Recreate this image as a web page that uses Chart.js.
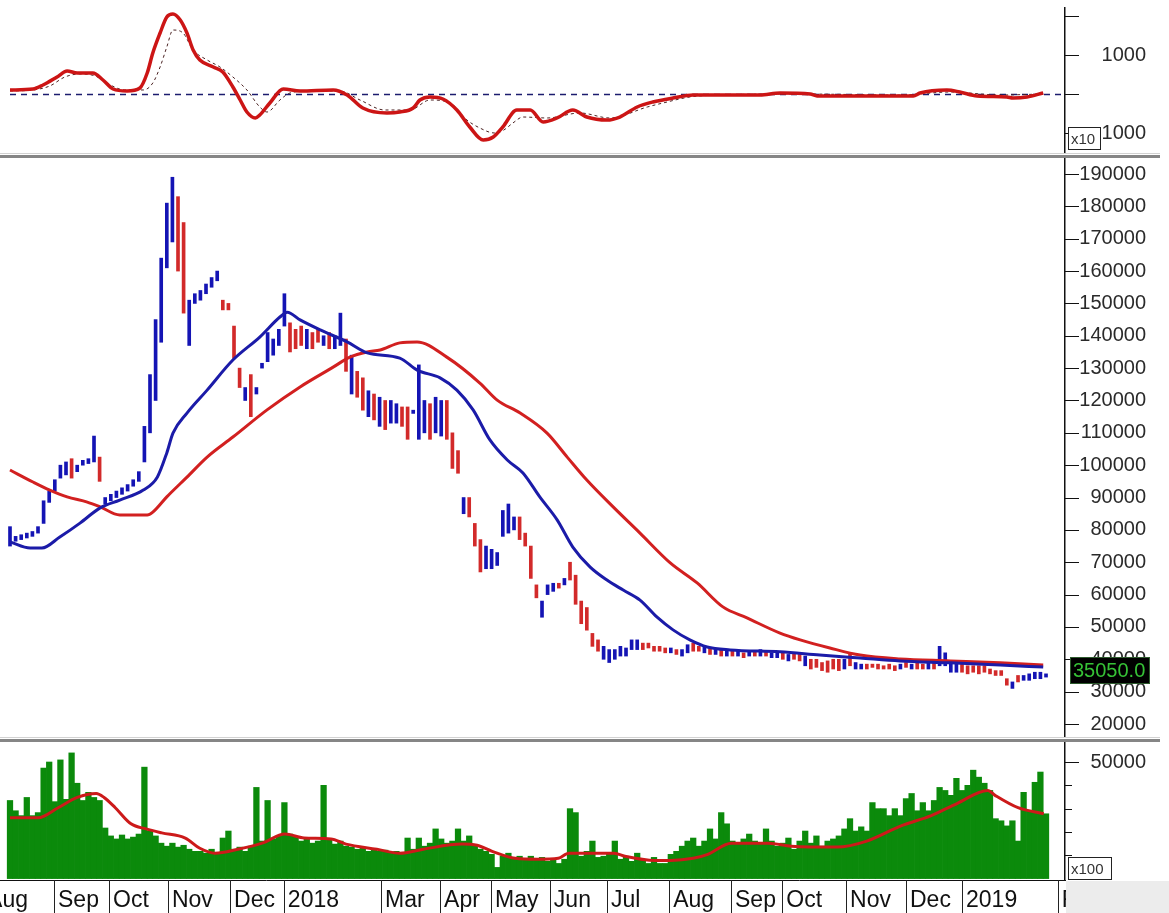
<!DOCTYPE html>
<html>
<head>
<meta charset="utf-8">
<title>Price, volume and MACD</title>
<script src="https://cdn.jsdelivr.net/npm/chart.js@4.4.0/dist/chart.umd.min.js"></script>
<style>
  html, body { margin: 0; padding: 0; background: #fff; }
  #wrap { position: relative; width: 1169px; height: 913px; overflow: hidden; background: #fff; }
  canvas { position: absolute; left: 0; }
  #macdCanvas { top: 7px; }
  #priceCanvas { top: 158px; }
  #volCanvas { top: 742px; }
  .sep { position: absolute; left: 0; width: 1160px; }
  .sep .hi { height: 1px; background: #d2d2d2; }
  .sep .lo { height: 3px; margin-top: 1px; background: #868686; }
  #sep1 { top: 153px; }
  #sep2 { top: 737px; }
  #corner { position: absolute; left: 1066px; top: 881px; width: 103px; height: 32px; background: #ececec; }
</style>
</head>
<body>
<div id="wrap">
  <canvas id="macdCanvas" width="1169" height="146"></canvas>
  <div class="sep" id="sep1"><div class="hi"></div><div class="lo"></div></div>
  <canvas id="priceCanvas" width="1169" height="579"></canvas>
  <div class="sep" id="sep2"><div class="hi"></div><div class="lo"></div></div>
  <canvas id="volCanvas" width="1169" height="171"></canvas>
  <div id="corner"></div>
</div>
<script>
'use strict';

/* ---- data (x = trading-day index, one bar per sample) ---- */

const priceLow = [
  75000, 76500, 77000, 77500, 78000, 79000, 82000, 88500, 92000, 96000,
  97000, 96000, 98000, 100000, 100500, 101000, 95000, 88000, 89000, 90000,
  91000, 92000, 93500, 95000, 101000, 110000, 120000, 138000, 161000, 169000,
  160000, 147000, 137000, 150000, 151000, 153000, 155000, 157000, 148000, 148000,
  133000, 124000, 120000, 115000, 122000, 130000, 132000, 134000, 137000, 143000,
  135000, 136000, 137000, 136000, 136000, 138000, 137000, 136000, 136000, 137000,
  129000, 122000, 121000, 117000, 115000, 114000, 112000, 111000, 113000, 113000,
  112000, 108000, 116000, 108000, 110000, 108000, 110000, 109000, 108000, 99000,
  97500, 85000, 84000, 75000, 67000, 68000, 68000, 69000, 78000, 79000,
  80000, 77000, 75000, 65000, 59000, 53000, 60000, 61000, 62000, 63000,
  64500, 57000, 51000, 49000, 44000, 42500, 40000, 39000, 40000, 41000,
  41000, 43000, 43000, 43000, 43500, 42500, 42500, 42000, 42000, 41500,
  41000, 42000, 42500, 42500, 42000, 41500, 41500, 41000, 41000, 41000,
  41000, 40500, 41000, 41000, 41000, 41000, 40500, 40500, 40000, 39500,
  40000, 39500, 38000, 37000, 37500, 36500, 36000, 37000, 36500, 37000,
  38000, 37000, 37000, 37000, 37500, 37000, 37000, 37000, 36500, 37000,
  37500, 37000, 37000, 37000, 37000, 37000, 38000, 38000, 36000, 36000,
  36000, 35500, 36000, 35500, 36000, 35500, 35000, 35000, 32000, 31000,
  33000, 33500, 33500, 34000, 34000, 34500
];

const priceHigh = [
  81000, 78000, 78500, 79000, 79500, 81000, 89000, 92000, 95500, 100000,
  101000, 102000, 100000, 101500, 102000, 109000, 102500, 90000, 91000, 92000,
  93000, 94000, 95500, 98000, 112000, 128000, 145000, 164000, 181000, 189000,
  183000, 175000, 151000, 153000, 154000, 156000, 158000, 160000, 151000, 150000,
  143000, 130000, 124000, 128000, 124000, 131500, 141000, 139000, 142000, 153000,
  144000, 142000, 143000, 142000, 141000, 142000, 140000, 141000, 140000, 147000,
  139000, 134000, 129000, 127000, 123000, 122000, 121000, 120000, 120000, 119000,
  118000, 118000, 117000, 131000, 120000, 119000, 121000, 120000, 120000, 110000,
  104500, 90000, 90000, 82000, 77000, 75000, 74000, 73000, 86000, 88000,
  84000, 84000, 79000, 75000, 63000, 58000, 63000, 63500, 63500, 65000,
  70000, 66000, 58000, 56000, 48000, 46000, 44000, 43000, 43000, 44000,
  43500, 46000, 46000, 45000, 45000, 44000, 44000, 43500, 43500, 43000,
  43000, 44500, 45000, 44000, 44000, 43500, 43000, 43000, 42500, 42500,
  42500, 42000, 42500, 42500, 43000, 42500, 42000, 42000, 42000, 41500,
  42000, 41500, 41000, 40000, 40000, 39000, 39500, 40000, 40000, 40000,
  42000, 39000, 38500, 38500, 38500, 38500, 38000, 38500, 38000, 38500,
  39000, 38500, 39000, 38500, 39000, 39000, 44000, 42000, 38500, 39000,
  38500, 38000, 38000, 38000, 38000, 37000, 36500, 36500, 34000, 33000,
  35000, 35000, 35500, 36000, 36000, 35500
];

// u = closed up (blue), d = closed down (red)
const priceDir = [
  'uuuuuuuuuuu', 'd', 'uuuu', 'd', 'uuuuuuuuuuuuu', 'dd', 'uuuuuu', 'dddd', 'u', 'd',
  'uuuuuu', 'ddd', 'u', 'dd', 'u', 'd', 'uu', 'd', 'u', 'dd', 'u', 'd', 'u', 'd', 'uu',
  'dd', 'uuu', 'd', 'uu', 'ddd', 'u', 'ddd', 'uuuuuu', 'dddd', 'uuu', 'd', 'u',
  'dddddd', 'uuuuuuu', 'ddddd', 'u', 'd', 'uu', 'dd', 'udududududud', 'uu', 'du', 'dd',
  'u', 'dddddd', 'ud', 'uu', 'dddddd', 'udu', 'dd', 'ud', 'uuuu', 'ddddddddd', 'ud',
  'uuuuuu', 'd'
].join('');

const lastClose = 35050;

const volume = [
  33500, 29100, 27000, 34800, 27000, 28300, 47400, 50000, 33000, 50900,
  34000, 53900, 40900, 33500, 37000, 34800, 33500, 21700, 18300, 17000,
  18700, 17000, 17800, 19100, 47800, 20400, 18300, 15200, 13900, 15200,
  13500, 14300, 12600, 11700, 11700, 10900, 12600, 10900, 17400, 20400,
  12600, 13500, 11700, 13900, 39100, 16100, 33500, 17000, 18300, 32600,
  19100, 17800, 16100, 17000, 15200, 16100, 40000, 17000, 14800, 16100,
  13900, 13500, 12600, 13000, 11700, 12600, 11700, 12200, 10900, 11700,
  10900, 17400, 12600, 17400, 13900, 15200, 21300, 17000, 15200, 16100,
  21300, 16100, 18300, 13900, 12600, 11700, 10400, 4800, 9600, 10900,
  8700, 9600, 8300, 9600, 8300, 9100, 7400, 8300, 6500, 8300,
  30000, 28300, 9600, 11700, 16100, 9100, 9600, 10900, 16100, 8300,
  9600, 7400, 10900, 8300, 6500, 9100, 6500, 6500, 10400, 11700,
  13900, 16100, 17400, 13900, 16100, 21300, 17000, 28300, 23500, 16100,
  15200, 17000, 19100, 16100, 14800, 21300, 16100, 13900, 15200, 17400,
  12600, 16100, 20400, 15200, 18300, 13900, 16100, 17000, 18300, 21300,
  25700, 20400, 22200, 20400, 32600, 30000, 30000, 27000, 30000, 27000,
  34300, 36500, 29100, 32600, 29100, 33500, 39100, 37800, 35700, 43000,
  37800, 40000, 46500, 43500, 40900, 37800, 25700, 24800, 22600, 24800,
  16100, 37000, 29100, 41300, 45700, 27800
];

// moving averages at these bar positions
const maFastX = [0, 3.6, 5.7, 8.9, 12.5, 16.1, 19.6, 23.8, 26.3, 28, 29.1, 31.6, 35.2, 39.8, 44.6, 48.2,
  49.5, 51.8, 55.4, 60.2, 63.8, 69.6, 72.7, 76.8, 79.8, 82.7, 85.7, 88.8, 91.6, 94.6, 97.7, 100.5,
  103.6, 106.6, 109.5, 112.5, 115.5, 118.4, 121.4, 124.5, 128.6, 137.5, 144.6, 151.8, 158.9, 167.9, 176.8, 184.5];
const maFastY = [76300, 74400, 74400, 77800, 82100, 86800, 89200, 92300, 96300, 103800, 109900, 116100,
  123200, 132500, 139600, 145800, 147300, 144900, 141800, 138100, 134700, 133100, 129400, 127000, 123200,
  117100, 107800, 101600, 97600, 90200, 83100, 74700, 68500, 64500, 61400, 58300, 53100, 49100, 46000,
  43800, 42900, 42300, 41300, 40400, 39500, 38900, 38200, 37600];

const maSlowX = [0, 4.1, 7.1, 10.2, 13.8, 16.1, 19.6, 24.5, 25.5, 28, 31.6, 35.2, 39.8, 45.9, 51.8, 57.7,
  60.7, 63.8, 66.1, 69.6, 72.7, 78, 83.9, 87, 91.1, 95.9, 99.5, 103, 107.7, 112.5, 117.9, 122.7, 127.3,
  131.6, 137.5, 141.1, 146.4, 151.8, 158.9, 167.9, 176.8, 184.5];
const maSlowY = [98500, 94800, 92300, 90200, 88600, 87100, 84600, 84600, 85500, 90200, 96300, 102500,
  108700, 117100, 124200, 130300, 133400, 135000, 135600, 137800, 138100, 133400, 125400, 120100, 116100,
  109900, 102500, 95400, 87100, 79000, 69800, 63600, 56200, 52800, 48100, 46000, 43500, 41300, 40100,
  39500, 38900, 38200];

const volMaX = [0, 5, 8.6, 12, 15.4, 16.8, 18.8, 21.6, 24.3, 27.1, 31.3, 33.9, 36.6, 40.7, 45, 49.1, 52.5,
  57.3, 60, 65.5, 69.6, 73.8, 80.7, 83.4, 86.1, 90.2, 94.3, 97.9, 99.8, 105.4, 107.9, 109.8, 115.2, 118,
  122, 124.6, 128.8, 135.5, 139.5, 147.7, 153, 159.1, 164.5, 169.1, 174.6, 175.9, 180, 184.6];
const volMaY = [26100, 26100, 30400, 34800, 36500, 34800, 30400, 23500, 21300, 19600, 17400, 13000, 10900,
  12600, 15200, 19100, 17400, 17000, 14800, 12600, 10900, 12600, 14800, 14300, 11700, 8700, 8300, 8700,
  10900, 10900, 10900, 9600, 7800, 7800, 8700, 10400, 15200, 15200, 13900, 13500, 16100, 22600, 27000,
  32200, 37800, 35700, 30400, 27800];

const macdX = [0, 4.1, 5.9, 8.4, 10.2, 12, 14.8, 16.6, 18.4, 20.9, 23.2, 24.5, 25.5, 26.8, 28, 29.1, 30.4,
  31.6, 32.7, 33.9, 36.3, 38, 39.8, 41.1, 42.3, 43.8, 44.6, 46.4, 48.8, 51.8, 57.7, 60.2, 63, 67.3, 69.6,
  72, 73.2, 75, 77.3, 79.8, 82.1, 84.5, 86.3, 88, 90.5, 92.9, 95.2, 97.7, 100.5, 103, 106.6, 108.9, 112,
  114.8, 118.4, 122, 125.5, 133.9, 137.5, 142.9, 144.1, 161.3, 162.5, 167.3, 169.6, 172.7, 178, 179.1,
  181.6, 184.5];
const macdY = [103, 128, 231, 436, 590, 538, 538, 359, 128, 77, 154, 538, 1051, 1564, 1974, 2051, 1897,
  1564, 1128, 872, 692, 564, 179, -154, -462, -615, -538, -231, 128, 77, 103, -26, -359, -487, -462,
  -359, -154, -77, -128, -410, -846, -1179, -1103, -846, -410, -410, -718, -615, -410, -590, -667, -590,
  -333, -205, -103, -26, -26, -26, 26, 0, -51, -51, 26, 103, 51, -51, -77, -103, -77, 26];

const signalX = [0, 4.1, 7.1, 9.8, 12.5, 15.2, 17.9, 20.5, 23.8, 25.5, 26.8, 28, 29.1, 30.9, 32.7, 35.2,
  37.5, 39.8, 42.3, 44.6, 45.9, 48.2, 50, 53.6, 58.9, 62.5, 66.9, 71.4, 75, 78.6, 81.6, 83.9, 86.5, 88,
  89.8, 91.6, 95.9, 101.8, 107.1, 113.8, 116.6, 121.4, 126.8, 141.1, 158.9, 167.9, 176.8, 184.5];
const signalY = [77, 103, 205, 436, 513, 462, 231, 103, 103, 282, 692, 1205, 1641, 1564, 1128, 872, 692,
  436, 103, -333, -462, -154, 26, 77, 77, -154, -410, -410, -154, -231, -667, -872, -1000, -940, -744,
  -590, -615, -487, -615, -333, -231, -77, -26, 0, -26, 51, -26, 0];

// axis ticks
const monthTicks = [-4.8, 7.86, 17.7, 28.2, 39.3, 48.9, 66.25, 76.8, 85.9, 96.4, 106.6, 117.7, 128.75,
  137.9, 149.3, 160, 170, 187.1];
const monthLabels = ['Aug', 'Sep', 'Oct', 'Nov', 'Dec', '2018', 'Mar', 'Apr', 'May', 'Jun', 'Jul', 'Aug',
  'Sep', 'Oct', 'Nov', 'Dec', '2019', 'Feb'];
const macdTicks = [-1000, -500, 0, 500, 1000, 1500, 2000];
const priceTicks = [20000, 25000, 30000, 35000, 40000, 45000, 50000, 55000, 60000, 65000, 70000, 75000,
  80000, 85000, 90000, 95000, 100000, 105000, 110000, 115000, 120000, 125000, 130000, 135000, 140000,
  145000, 150000, 155000, 160000, 165000, 170000, 175000, 180000, 185000, 190000];
const volTicks = [10000, 20000, 30000, 40000, 50000];

/* ---- styling ---- */

const UP = '#1414b4';
const DOWN = '#d22a2a';
const FONT = "'Liberation Sans', Arial, sans-serif";
Chart.defaults.font.family = FONT;

// x range chosen so bar 0 sits 10px in and the plot ends at the right axis
const X_MIN = -1.786, X_MAX = 188.39;

const pts = (xs, ys) => xs.map((x, i) => ({ x, y: ys[i] }));

const axisTicks = {
  id: 'axisTicks',
  afterDraw(chart, args, opts) {
    const s = chart.scales.y, ctx = chart.ctx;
    ctx.save();
    ctx.strokeStyle = '#111';
    ctx.lineWidth = 1;
    s.ticks.forEach(t => {
      const y = Math.round(s.getPixelForValue(t.value)) + 0.5;
      const len = t.value % opts.major === 0 ? 14 : 7;
      ctx.beginPath();
      ctx.moveTo(s.left, y);
      ctx.lineTo(s.left + len, y);
      ctx.stroke();
    });
    ctx.restore();
  }
};

const tagBox = {
  id: 'tagBox',
  afterDraw(chart, args, o) {
    if (!o.text) return;
    const s = chart.scales.y, ctx = chart.ctx;
    const top = o.value !== undefined ? Math.round(s.getPixelForValue(o.value)) + o.dy : o.top;
    const left = s.left + o.dx;
    ctx.save();
    ctx.fillStyle = o.fill;
    ctx.fillRect(left, top, o.width, o.height);
    ctx.strokeStyle = o.border;
    ctx.lineWidth = 1;
    ctx.strokeRect(left + 0.5, top + 0.5, o.width - 1, o.height - 1);
    ctx.fillStyle = o.color;
    ctx.font = o.font;
    ctx.textBaseline = 'middle';
    ctx.fillText(o.text, left + o.pad, top + o.height / 2 + 1);
    ctx.restore();
  }
};

const zeroLine = {
  id: 'zeroLine',
  beforeDatasetsDraw(chart) {
    const { ctx, chartArea, scales: { x, y } } = chart;
    const py = Math.round(y.getPixelForValue(0)) + 0.5;
    ctx.save();
    ctx.strokeStyle = '#1c1c6e';
    ctx.lineWidth = 1.5;
    ctx.setLineDash([6, 5]);
    ctx.beginPath();
    ctx.moveTo(x.getPixelForValue(0), py);
    ctx.lineTo(chartArea.right - 3, py);
    ctx.stroke();
    ctx.restore();
  }
};

const monthRules = {
  id: 'monthRules',
  afterDraw(chart) {
    const { ctx, scales: { x } } = chart;
    ctx.save();
    ctx.strokeStyle = '#222';
    ctx.lineWidth = 1;
    x.ticks.forEach(t => {
      const px = Math.round(x.getPixelForValue(t.value)) + 0.5;
      ctx.beginPath();
      ctx.moveTo(px, x.top);
      ctx.lineTo(px, x.bottom);
      ctx.stroke();
    });
    ctx.restore();
  }
};

function xAxis(show) {
  const ax = {
    type: 'linear', min: X_MIN, max: X_MAX, bounds: 'data', offset: false, display: show,
    grid: { display: false },
  };
  if (show) {
    Object.assign(ax, {
      border: { display: true, color: '#111', width: 1 },
      ticks: {
        autoSkip: false, maxRotation: 0, align: 'start', labelOffset: 4, padding: -1,
        color: '#111', font: { size: 23 },
        callback: (v, i) => monthLabels[i]
      },
      afterBuildTicks: s => { s.ticks = monthTicks.map(value => ({ value })); },
      afterFit: s => { s.height = 33; s.paddingLeft = 0; s.paddingRight = 0; }
    });
  }
  return ax;
}

// right axis: 81px wide, labels right-aligned on its far edge
function yAxis(min, max, tickList, label) {
  return {
    type: 'linear', position: 'right', min, max, bounds: 'data',
    grid: { display: false },
    border: { display: true, color: '#111', width: 1.5 },
    ticks: { padding: 0, crossAlign: 'far', color: '#2a2a2a', font: { size: 20 }, callback: label },
    afterBuildTicks: s => { s.ticks = tickList.map(value => ({ value })); },
    afterFit: s => { s.width = 81; s.paddingTop = 0; s.paddingBottom = 0; }
  };
}

const base = {
  responsive: false,
  animation: false,
  events: [],
  layout: { padding: { left: 0, top: 0, bottom: 0, right: 23 }, autoPadding: false },
};
const noLegend = { legend: { display: false }, tooltip: { enabled: false } };

/* ---- MACD panel ---- */
new Chart(document.getElementById('macdCanvas'), {
  type: 'line',
  data: {
    datasets: [
      { data: pts(macdX, macdY), borderColor: '#cc1515', borderWidth: 3.5, pointRadius: 0,
        cubicInterpolationMode: 'monotone', order: 1 },
      { data: pts(signalX, signalY), borderColor: '#4a2222', borderWidth: 1, borderDash: [3, 3],
        pointRadius: 0, cubicInterpolationMode: 'monotone', order: 2 }
    ]
  },
  options: {
    ...base,
    scales: {
      x: xAxis(false),
      y: yAxis(-1513, 2231, macdTicks, v => (Math.abs(v) === 1000 ? String(v) : ''))
    },
    plugins: {
      ...noLegend,
      axisTicks: { major: 1000 },
      tagBox: { text: 'x10', dx: 3, top: 120, width: 33, height: 23, pad: 3, fill: '#fff',
        border: '#222', color: '#333', font: '15px ' + FONT }
    }
  },
  plugins: [zeroLine, axisTicks, tagBox]
});

/* ---- price panel ---- */
new Chart(document.getElementById('priceCanvas'), {
  type: 'bar',
  data: {
    datasets: [
      { type: 'line', data: pts(maFastX, maFastY), borderColor: '#1b1ba8', borderWidth: 3, pointRadius: 0,
        cubicInterpolationMode: 'monotone', order: 1 },
      { type: 'line', data: pts(maSlowX, maSlowY), borderColor: '#d22020', borderWidth: 3, pointRadius: 0,
        cubicInterpolationMode: 'monotone', order: 2 },
      { data: priceLow.map((lo, i) => ({ x: i, y: [lo, priceHigh[i]] })),
        backgroundColor: priceLow.map((_, i) => (priceDir[i] === 'd' ? DOWN : UP)),
        barThickness: 3, borderWidth: 0, order: 3 }
    ]
  },
  options: {
    ...base,
    scales: {
      x: xAxis(false),
      y: yAxis(15982, 194950, priceTicks, v => (v % 10000 === 0 ? String(v) : ''))
    },
    plugins: {
      ...noLegend,
      axisTicks: { major: 10000 },
      tagBox: { text: lastClose.toFixed(1), value: lastClose, dy: -18, dx: 5, width: 80, height: 27, pad: 3,
        fill: '#000', border: '#2c5a2c', color: '#36c236', font: '20px ' + FONT }
    }
  },
  plugins: [axisTicks, tagBox]
});

/* ---- volume panel ---- */
new Chart(document.getElementById('volCanvas'), {
  type: 'bar',
  data: {
    datasets: [
      { type: 'line', data: pts(volMaX, volMaY), borderColor: '#cc1a1a', borderWidth: 3, pointRadius: 0,
        cubicInterpolationMode: 'monotone', order: 1 },
      { data: volume.map((v, i) => ({ x: i, y: v })), backgroundColor: '#0b8a0b', borderWidth: 0,
        barPercentage: 1, categoryPercentage: 1, order: 2 }
    ]
  },
  options: {
    ...base,
    scales: {
      x: xAxis(true),
      y: yAxis(-600, 58577, volTicks, v => (v === 50000 ? '50000' : ''))
    },
    plugins: {
      ...noLegend,
      axisTicks: { major: 50000 },
      tagBox: { text: 'x100', dx: 3, top: 115, width: 44, height: 23, pad: 3, fill: '#fff',
        border: '#222', color: '#333', font: '15px ' + FONT }
    }
  },
  plugins: [monthRules, axisTicks, tagBox]
});
</script>
</body>
</html>
